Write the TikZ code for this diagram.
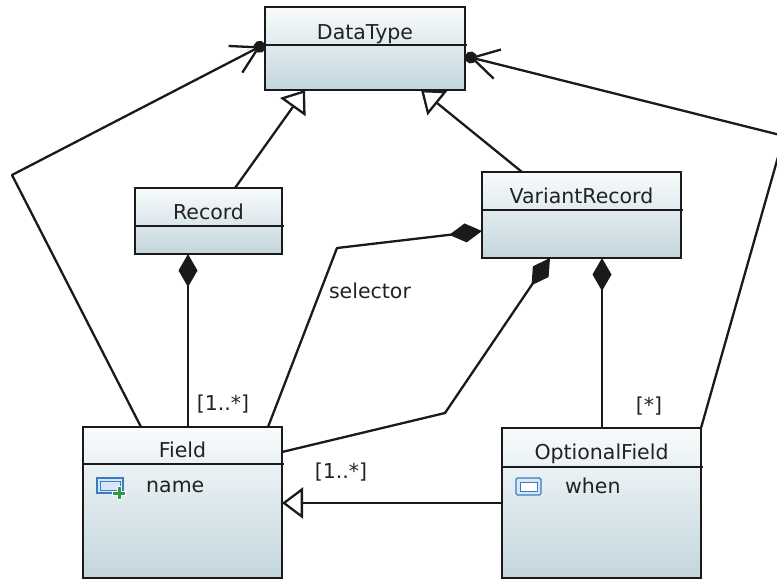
\documentclass[tikz,border=0pt]{standalone}
\usepackage{fontspec}
\setmainfont{DejaVu Sans}
\usetikzlibrary{arrows.meta, calc, positioning}
\definecolor{boxtop}{HTML}{F8FBFC}
\definecolor{boxbot}{HTML}{C3D6DD}
\definecolor{edge}{HTML}{1A1A1A}
\definecolor{ink}{HTML}{222222}
\definecolor{iconblue}{HTML}{3A7CC4}
\definecolor{iconfill}{HTML}{D6E7F7}
\definecolor{plusgreen}{HTML}{2F9C45}

\tikzset{
 classbox/.style={draw=edge, line width=2.3pt, top color=boxtop, bottom color=boxbot,
   anchor=north west, inner sep=0pt, outer sep=0pt},
 title/.style={anchor=base, text=ink, inner sep=0pt},
 divider/.style={draw=edge, line width=2.3pt},
 lbl/.style={text=ink, inner sep=0pt},
 conn/.style={draw=edge, line width=2.3pt, line join=round},
 gen/.style={conn, -{Triangle[open, length=21pt, width=31pt, fill=white, line width=2.3pt]}},
 comp/.style={conn, {Diamond[length=33pt, width=19pt]}-},
 ref/.style={conn, -{Straight Barb[length=26pt, width=30pt, line width=2.3pt, sep=-7pt] Circle[length=12pt]}},
}

\begin{document}
\begin{tikzpicture}[x=1pt, y=-1pt, font=\fontsize{20.5}{24}\selectfont]
\useasboundingbox (0,0) rectangle (777,579);

\node[classbox, minimum width=200pt, minimum height=83pt] (dt) at (265,7) {};
\node[title] (dtname) at (365,39) {DataType};
\draw[divider] ($(dt.north west)+(0,38)$) -- ++(202,0);

\node[classbox, minimum width=147pt, minimum height=66pt] (rec) at (135,188) {};
\node[title] (recname) at (208.5,219) {Record};
\draw[divider] ($(rec.north west)+(0,38)$) -- ++(149,0);

\node[classbox, minimum width=199pt, minimum height=86pt] (vr) at (482,172) {};
\node[title] (vrname) at (581.5,203) {VariantRecord};
\draw[divider] ($(vr.north west)+(0,38)$) -- ++(201,0);

\node[classbox, minimum width=199pt, minimum height=151pt] (fld) at (83,427) {};
\node[title] (fldname) at (182.5,457) {Field};
\draw[divider] ($(fld.north west)+(0,37)$) -- ++(201,0);

\node[classbox, minimum width=199pt, minimum height=150pt] (opt) at (502,428) {};
\node[title] (optname) at (601.5,459) {OptionalField};
\draw[divider] ($(opt.north west)+(0,39)$) -- ++(201,0);

\draw[iconblue, fill=iconfill, line width=1.2pt] (97,478) rectangle (123,493);
\draw[iconblue, line width=1pt] (100,481) rectangle (120,490);
\draw[white, line width=5pt] (112,493) -- (126,493) (119,486) -- (119,500);
\draw[plusgreen, line width=3pt] (113,493) -- (125,493) (119,487) -- (119,499);
\node[anchor=base west, text=ink, inner sep=0pt] (fldattr) at (146,492) {name};

\draw[iconblue, fill=iconfill, line width=1.2pt, rounded corners=1.5pt] (516,478) rectangle (541,495);
\draw[iconblue, fill=white, line width=1pt] (520,482) rectangle (537,491);
\node[anchor=base west, text=ink, inner sep=0pt] (optattr) at (565,493) {when};

\draw[gen] (rec.north -| 235,0) -- (dt.south -| 305,0);
\draw[gen] (vr.north -| 522,0) -- (dt.south -| 421,0);
\draw[gen] (opt.west |- 0,503) -- (fld.east |- 0,503);

\draw[comp] (rec.south -| 188,0) -- (fld.north -| 188,0);
\draw[comp] (vr.west |- 0,231) -- (337,248) -- (fld.north -| 268,0);
\draw[comp] (vr.south -| 550,0) -- (445,413) -- (fld.east |- 0,452);
\draw[comp] (vr.south -| 602,0) -- (opt.north -| 602,0);

\draw[ref] (fld.north -| 141,0) -- (12,175) -- (dt.west |- 0,44);
\draw[ref] (opt.north east) -- (784,136) -- (dt.east |- 0,56);

\node[lbl] (fldmult) at (223,404) {[1..*]};
\node[lbl] (selname) at (370,291) {selector};
\node[lbl] (optmult) at (649,406) {[*]};
\node[lbl] (genmult) at (341,472) {[1..*]};
\end{tikzpicture}
\end{document}
